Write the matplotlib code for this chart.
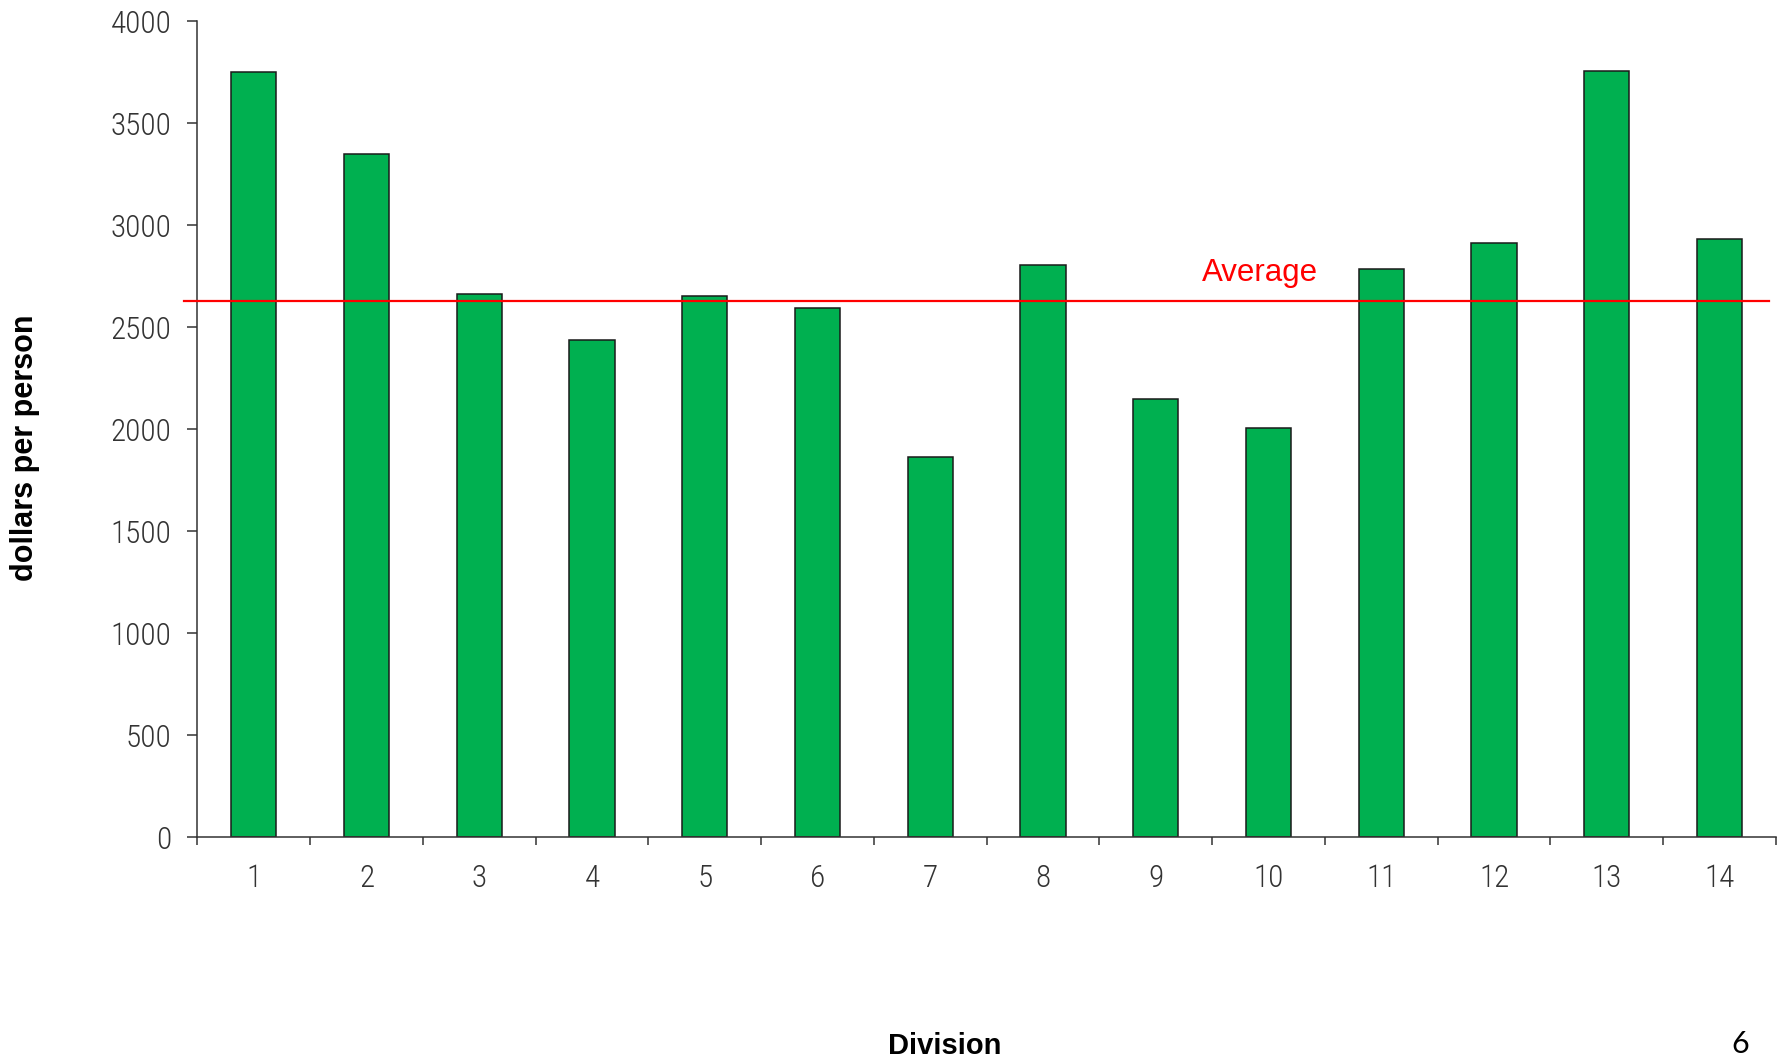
import matplotlib
matplotlib.use("Agg")
import matplotlib.pyplot as plt
from matplotlib import font_manager as fm
from matplotlib.ticker import FixedLocator, NullFormatter

# ---- data ----
divisions = ["1", "2", "3", "4", "5", "6", "7", "8", "9", "10", "11", "12", "13", "14"]
dollars_per_person = [3750, 3350, 2663, 2438, 2651, 2593, 1865, 2805, 2147, 2007, 2784, 2910, 3753, 2931]
average_value = 2628
y_ticks = [0, 500, 1000, 1500, 2000, 2500, 3000, 3500, 4000]

names = {f.name for f in fm.fontManager.ttflist}
narrow = None
for cand in ["Roboto Condensed", "Liberation Sans Narrow", "DejaVu Sans Condensed"]:
    if cand in names:
        narrow = cand
        break
if narrow is None:
    narrow = "DejaVu Sans"

fig = plt.figure(figsize=(17.89, 10.61), dpi=100)
ax = fig.add_axes([0.1103, 0.2108, 0.9927 - 0.1103, 0.9802 - 0.2108])

x = list(range(1, len(divisions) + 1))
ax.bar(x, dollars_per_person, width=0.4, color="#00B050", edgecolor="#1a1a1a", linewidth=1.1, zorder=2)

ax.set_xlim(0.5, len(divisions) + 0.5)
ax.set_ylim(0, 4000)

ax.plot([0.382, 14.437], [average_value, average_value], color="#FF0000", lw=1.6, zorder=3, clip_on=False)
ax.text(9.41, average_value + 98, "Average", color="#FF0000", fontsize=22.5,
        family="Liberation Sans", ha="left", va="baseline")

for s in ["top", "right"]:
    ax.spines[s].set_visible(False)
for s in ["left", "bottom"]:
    ax.spines[s].set_color("#333333")
    ax.spines[s].set_linewidth(1.1)

ax.set_yticks(y_ticks)
ax.set_yticklabels([str(v) for v in y_ticks], family=narrow, fontsize=22.5, color="#333333", fontweight="light")
ax.tick_params(axis="y", direction="out", length=7.5, width=1.1, color="#333333", pad=11)

# boundary ticks (major, unlabeled) and centered labels (minor, no tick line)
ax.xaxis.set_major_locator(FixedLocator([i + 0.5 for i in range(0, len(divisions) + 1)]))
ax.xaxis.set_major_formatter(NullFormatter())
ax.xaxis.set_minor_locator(FixedLocator(x))
ax.set_xticklabels(divisions, minor=True, family=narrow, fontsize=22.5, color="#333333", fontweight="light")
ax.tick_params(axis="x", which="major", direction="out", length=6, width=1.1, color="#333333")
ax.tick_params(axis="x", which="minor", length=0, pad=19)

fig.text(0.014, 0.578, "dollars per person", rotation=90, ha="center", va="center",
         fontsize=22, fontweight="bold", family="Liberation Sans")
fig.text(0.528, 0.0141, "Division", ha="center", va="center",
         fontsize=21, fontweight="bold", family="Liberation Sans")
fig.text(0.9726, 0.0160, "6", ha="center", va="center", fontsize=22, family="Lato",
         color="black")

fig.savefig("out.png", dpi=100, facecolor="white")
